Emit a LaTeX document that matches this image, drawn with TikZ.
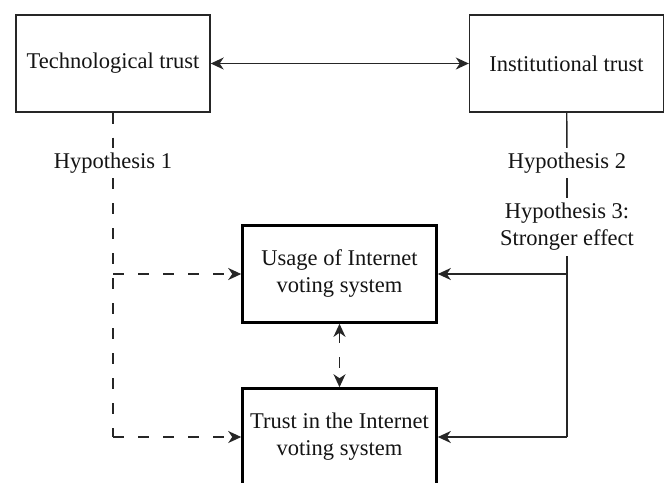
\documentclass[tikz,border=0pt]{standalone}
\usepackage{fontspec}
\setmainfont{Liberation Serif}
\usetikzlibrary{arrows.meta}
\begin{document}
\begin{tikzpicture}[x=1pt,y=-1pt,
  box/.style={draw=black!85, line width=1.4pt, minimum width=194pt, minimum height=97pt, inner sep=0pt, align=center, text=black!92, font=\fontsize{22.5}{27}\selectfont},
  boldbox/.style={box, line width=2.6pt, draw=black},
  lbl/.style={inner sep=0pt, align=center, font=\fontsize{22.5}{27}\selectfont, text=black!92},
  conn/.style={line width=1.4pt, draw=black!85},
  tip/.style={-{Stealth[length=13pt,width=12pt,inset=4pt]}},
  both/.style={{Stealth[length=13pt,width=12pt,inset=4pt]}-{Stealth[length=13pt,width=12pt,inset=4pt]}},
  dsh/.style={dash pattern=on 11pt off 14pt},
]
\clip (0,0) rectangle (668,482);
\fill[white] (0,0) rectangle (668,482);
\node[box] (tech) at (113,63.5) {Technological trust};
\node[box] (inst) at (566.5,63.5) {Institutional trust};
\node[boldbox] (use) at (339.5,274) {Usage of Internet\\voting system};
\node[boldbox] (trust) at (339.5,437) {Trust in the Internet\\voting system};
\node[lbl, minimum height=30pt] (h1) at (113,163) {Hypothesis 1};
\node[lbl, minimum height=30pt] (h2) at (567,163) {Hypothesis 2};
\node[lbl, minimum height=58pt] (h3) at (567,227) {Hypothesis 3:\\Stronger effect};
\coordinate (j1) at (113,274);
\coordinate (c1) at (113,437);
\coordinate (j2) at (567,274);
\coordinate (c2) at (567,437);
\draw[conn,both] (tech) -- (inst);
\draw[conn,dsh] (tech) -- (h1);
\draw[conn,dsh] (h1) -- (c1);
\draw[conn,dsh,tip] (j1) -- (use);
\draw[conn,dsh,tip] (c1) -- (trust);
\draw[conn] (inst) -- (h2);
\draw[conn] (h2) -- (h3);
\draw[conn] (h3) -- (c2);
\draw[conn,tip] (j2) -- (use);
\draw[conn,tip] (c2) -- (trust);
\draw[conn,dsh,both] (use) -- (trust);
\end{tikzpicture}
\end{document}
